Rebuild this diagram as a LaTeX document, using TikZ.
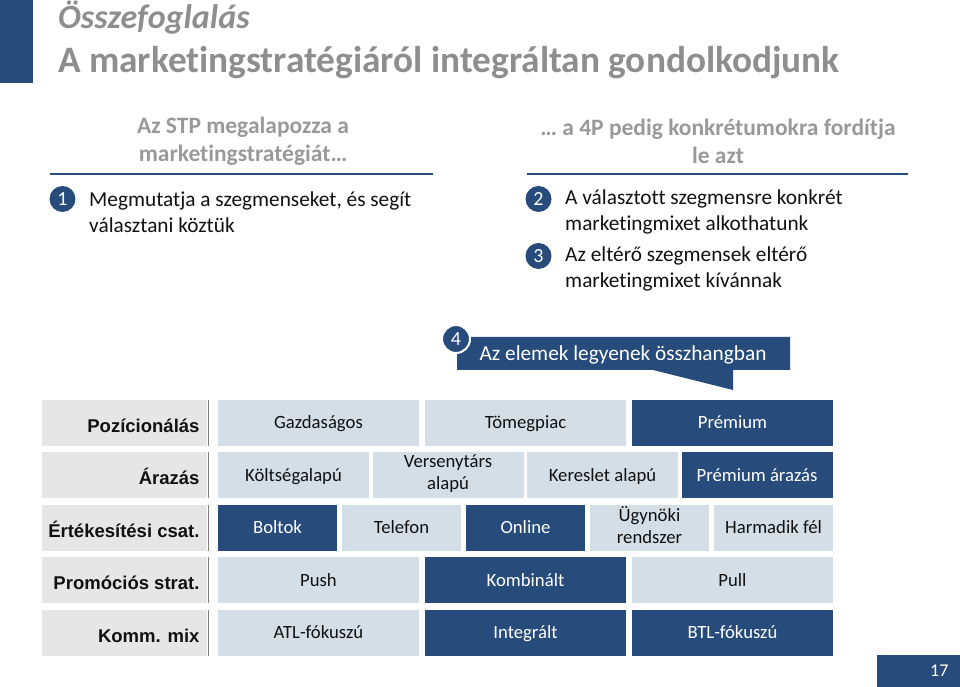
\documentclass[tikz,border=0pt]{standalone}
\usepackage{fontspec}
\setmainfont{Carlito}[Ligatures=NoCommon]
\newfontfamily\arialfont{Liberation Sans}
\usetikzlibrary{positioning}
\definecolor{slidenavy}{HTML}{274C7C}
\definecolor{slidelite}{HTML}{D3DEE6}
\definecolor{slidelab}{HTML}{E6E6E6}
\definecolor{slidegray}{HTML}{8E8E8E}
\definecolor{slidesep}{HTML}{808080}
\definecolor{slideink}{HTML}{111111}

\begin{document}
\begin{tikzpicture}[
  x=1pt, y=1pt,
  title/.style={anchor=base west, inner sep=0pt, text=slidegray, font=\fontsize{37.3}{40}\selectfont\bfseries},
  heading/.style={text=slidegray!90, align=center, font=\fontsize{23.5}{28}\selectfont\bfseries},
  body/.style={anchor=west, align=left, text=slideink, font=\fontsize{21.3}{26}\selectfont},
  num/.style={circle, fill=slidenavy, text=white, minimum size=26pt, inner sep=0pt,
    font=\fontsize{20}{20}\selectfont},
  rule/.style={draw=slidenavy, line width=2pt},
  rowlab/.style={fill=slidelab, minimum width=165pt, minimum height=46pt, inner sep=0pt, outer sep=0pt},
  labtxt/.style={anchor=east, text=slideink, font=\arialfont\fontsize{18.5}{21}\selectfont\bfseries,
    text height=19pt, text depth=0pt},
  cell/.style={minimum height=46pt, inner sep=0pt, outer sep=0pt, align=center,
    font=\fontsize{18.7}{22}\selectfont,
    execute at begin node={\rule{0pt}{17.6pt}}, execute at end node={\rule[-6pt]{0pt}{6pt}}},
  lite/.style={cell, fill=slidelite, text=slideink},
  dark/.style={cell, fill=slidenavy, text=white},
  third/.style={minimum width=201pt},
  quarter/.style={minimum width=151pt},
  fifth/.style={minimum width=119pt},
  sep/.style={draw=slidesep, line width=1.5pt},
]
\useasboundingbox (0,0) rectangle (960,687);

% header
\fill[slidenavy] (0,687) rectangle (33,604);
\node[title, font=\fontsize{34}{40}\selectfont\bfseries\itshape] (ttl1) at (58,658.5) {Összefoglalás};
\node[title] (ttl2) at (58,614.5) {A marketingstratégiáról integráltan gondolkodjunk};

% two columns
\node[heading] (stp) at (243,546) {Az STP megalapozza a\\marketingstratégiát…};
\node[heading] (fourp) at (718,546) {… a 4P pedig konkrétumokra fordítja\\le azt};
\draw[rule] (50,513) -- (433,513);
\draw[rule] (527,513) -- (908,513);

\node[num] (n1) at (62.5,488) {1};
\node[body, right=10pt of n1, yshift=-13pt] (b1) {Megmutatja a szegmenseket, és segít\\választani köztük};
\node[num] (n2) at (538.5,488) {2};
\node[body, right=10pt of n2, yshift=-13pt] (b2) {A választott szegmensre konkrét\\marketingmixet alkothatunk};
\node[num] (n3) at (538.5,431) {3};
\node[body, right=10pt of n3, yshift=-13pt] (b3) {Az eltérő szegmensek eltérő\\marketingmixet kívánnak};

% callout
\fill[slidenavy] (457,350) -- (790,350) -- (790,317) -- (733,317) -- (733,297)
  -- (653,317) -- (457,317) -- cycle;
\node[text=white, font=\fontsize{21.3}{24}\selectfont] (harm4) at (623,332) {Az elemek legyenek összhangban};
\node[num, draw=white, line width=2pt, minimum size=28pt] (n4) at (456,348) {4};

% table
\node[rowlab] (l1) at (124.5,264) {};
\node[rowlab, below=6.5pt of l1] (l2) {};
\node[rowlab, below=6.5pt of l2] (l3) {};
\node[rowlab, below=6.5pt of l3] (l4) {};
\node[rowlab, below=6.5pt of l4] (l5) {};
\foreach \r/\t in {1/Pozícionálás, 2/Árazás, 3/Értékesítési csat., 4/Promóciós strat., 5/Komm. mix} {
  \node[labtxt, left=4pt of l\r.east] (t\r) {\t};
  \draw[sep] ([xshift=1.5pt]l\r.north east) -- ([xshift=1.5pt]l\r.south east);
}

\node[lite, third, right=11pt of l1] (gazd) {Gazdaságos};
\node[lite, third, right=6pt of gazd] (tomeg) {Tömegpiac};
\node[dark, third, right=6pt of tomeg] (prem) {Prémium};

\node[lite, quarter, right=11pt of l2] (kolts) {Költségalapú};
\node[lite, quarter, right=3.5pt of kolts] (verseny) {Versenytárs\\alapú};
\node[lite, quarter, right=3.5pt of verseny] (keresl) {Kereslet alapú};
\node[dark, quarter, right=3.5pt of keresl] (premar) {Prémium árazás};

\node[dark, fifth, right=11pt of l3] (bolt) {Boltok};
\node[lite, fifth, right=5pt of bolt] (telef) {Telefon};
\node[dark, fifth, right=5pt of telef] (onl) {Online};
\node[lite, fifth, right=5pt of onl] (ugyn) {Ügynöki\\rendszer};
\node[lite, fifth, right=5pt of ugyn] (harmad) {Harmadik fél};

\node[lite, third, right=11pt of l4] (push) {Push};
\node[dark, third, right=6pt of push] (komb) {Kombinált};
\node[lite, third, right=6pt of komb] (pull) {Pull};

\node[lite, third, right=11pt of l5] (atl) {ATL-fókuszú};
\node[dark, third, right=6pt of atl] (integr) {Integrált};
\node[dark, third, right=6pt of integr] (btl) {BTL-fókuszú};

% page number
\node[fill=slidenavy, minimum width=83pt, minimum height=32pt, inner sep=0pt, anchor=south east] (pg) at (960,0) {};
\node[text=white, font=\fontsize{18}{20}\selectfont, left=8pt of pg.east] (pgnum) {17};

\end{tikzpicture}
\end{document}
